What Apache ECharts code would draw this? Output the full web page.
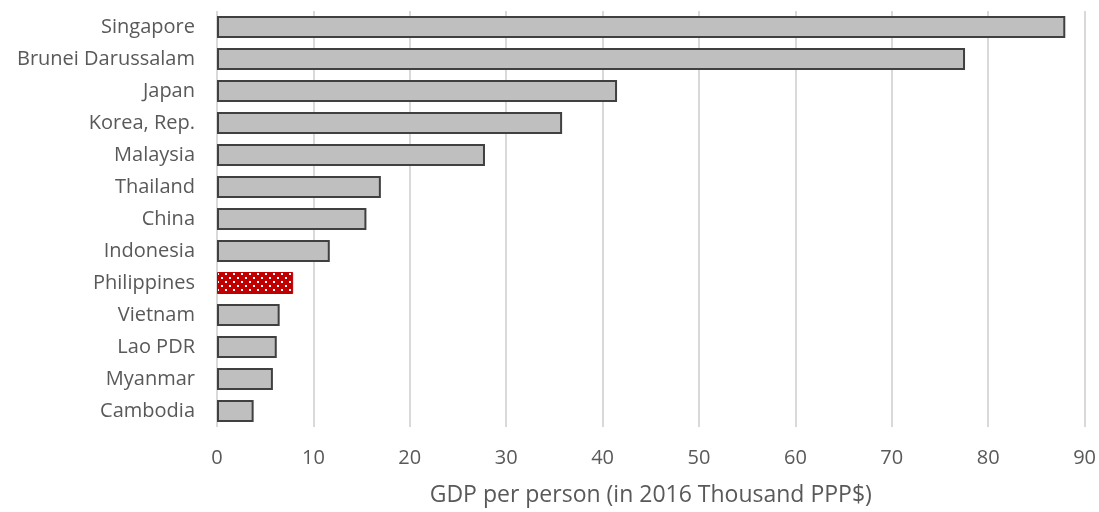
<!DOCTYPE html>
<html>
<head>
<meta charset="utf-8">
<script src="https://cdn.jsdelivr.net/npm/echarts@6/dist/echarts.min.js"></script>
<style>
html,body{margin:0;padding:0;background:#fff;}
#chart{width:1099px;height:512px;}
</style>
</head>
<body>
<div id="chart"></div>
<script>
var categories = ["Singapore","Brunei Darussalam","Japan","Korea, Rep.","Malaysia","Thailand","China","Indonesia","Philippines","Vietnam","Lao PDR","Myanmar","Cambodia"];
var gdpValues = [88.0, 77.6, 41.5, 35.8, 27.8, 17.0, 15.5, 11.7, 7.9, 6.5, 6.2, 5.8, 3.8];
var highlightCategory = "Philippines";
var xTicks = [0,10,20,30,40,50,60,70,80,90];
var axisTitle = "GDP per person (in 2016 Thousand PPP$)";

function makePattern(){
  var c = document.createElement('canvas');
  c.width = 8; c.height = 8;
  var ctx = c.getContext('2d');
  ctx.fillStyle = '#c00000';
  ctx.fillRect(0,0,8,8);
  ctx.fillStyle = '#ffffff';
  ctx.fillRect(1,1,2,2);
  ctx.fillRect(5,5,2,2);
  return c;
}
var pattern = {image: makePattern(), repeat: 'repeat'};

var seriesData = categories.map(function(cat, i){
  if (cat === highlightCategory) {
    return {value: gdpValues[i], itemStyle: {color: pattern, borderColor: '#c00000', borderWidth: 1}};
  }
  return {value: gdpValues[i]};
});

var chart = echarts.init(document.getElementById('chart'), null, {renderer: 'canvas'});
var font = '"Open Sans", sans-serif';
chart.setOption({
  animation: false,
  backgroundColor: '#ffffff',
  grid: {left: 217, right: 12, top: 11, bottom: 81, containLabel: false},
  xAxis: {
    type: 'value',
    min: xTicks[0], max: xTicks[xTicks.length-1], interval: 10,
    name: axisTitle,
    nameLocation: 'middle',
    nameGap: 57,
    nameTextStyle: {color: '#595959', fontSize: 23, fontFamily: font},
    axisLine: {show: false},
    axisTick: {show: false},
    axisLabel: {color: '#595959', fontSize: 20, fontFamily: font, margin: 21},
    splitLine: {show: true, lineStyle: {color: '#d9d9d9', width: 2}}
  },
  yAxis: {
    type: 'category',
    data: categories,
    inverse: true,
    axisLine: {show: false},
    axisTick: {show: false},
    axisLabel: {color: '#595959', fontSize: 20, fontFamily: font, margin: 22},
    splitLine: {show: false}
  },
  series: [{
    type: 'bar',
    data: seriesData,
    barWidth: 22,
    itemStyle: {color: '#bfbfbf', borderColor: '#404040', borderWidth: 2}
  }]
});
</script>
</body>
</html>
